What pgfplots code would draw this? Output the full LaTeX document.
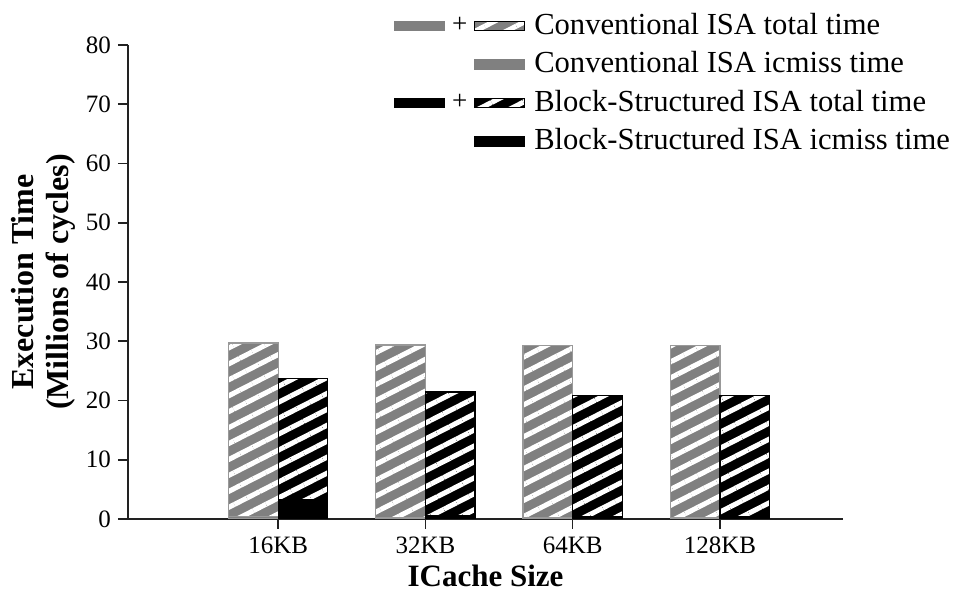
\documentclass[border=0pt]{standalone}
\usepackage{pgfplots}
\pgfplotsset{compat=1.18}
\usepackage{fontspec}
\setmainfont{Liberation Serif}
\usetikzlibrary{patterns.meta}
\definecolor{gr}{RGB}{128,128,128}
\definecolor{axc}{RGB}{34,34,34}
\tikzset{
  hatch/.style={postaction={pattern={Lines[angle=27,distance=7.1pt,line width=2.5pt]}, pattern color=white}},
}
\begin{document}
\begin{tikzpicture}
\path[use as bounding box] (-64pt,-36.5pt) rectangle (414pt,259.5pt);
\begin{axis}[
  scale only axis,
  width=357.5pt, height=237pt,
  xmin=-0.02, xmax=4.836,
  ymin=0, ymax=80,
  ytick={0,10,...,80},
  xtick={1,2,3,4},
  xticklabels={16KB,32KB,64KB,128KB},
  axis x line*=bottom, axis y line*=left,
  axis line style={axc, line width=1pt},
  tick style={axc, line width=0.8pt},
  tick align=outside,
  major tick length=5pt,
  /pgf/number format/assume math mode=true,
  tick label style={font=\fontsize{12.5}{14}\selectfont},
  xticklabel style={text height=8.5pt, text depth=0pt},
  xlabel={ICache Size},
  xlabel style={font=\bfseries\fontsize{15.5}{17}\selectfont, at={(axis description cs:0.5,-0.1205)}, anchor=center},
  ylabel={Execution Time\\(Millions of cycles)},
  ylabel style={font=\bfseries\fontsize{16}{17.5}\selectfont, align=center, at={(axis description cs:-0.119,0.5)}, anchor=center},
  legend style={draw=none, fill=none, at={(axis description cs:0.484,1.076)}, anchor=north west,
    font=\fontsize{15.3}{18}\selectfont, inner sep=0pt, row sep=2.75pt, column sep=4.5pt,
    nodes={inner sep=0pt, text height=12.5pt, text depth=4pt}},
  legend cell align=left,
]
% totals (hatched)
\addplot[ybar, bar width=0.337, bar shift=-0.1685, fill=gr, draw=gr!80, line width=0.6pt, hatch, forget plot]
  coordinates {(1,29.7) (2,29.35) (3,29.25) (4,29.25)};
\addplot[ybar, bar width=0.337, bar shift=0.1685, fill=black, draw=black, line width=0.6pt, hatch, forget plot]
  coordinates {(1,23.7) (2,21.45) (3,20.9) (4,20.8)};
% icmiss (solid)
\addplot[ybar, bar width=0.337, bar shift=-0.1685, fill=gr, draw=gr!80, line width=0.6pt, forget plot]
  coordinates {(1,0.4) (2,0.25) (3,0.2) (4,0.2)};
\addplot[ybar, bar width=0.337, bar shift=0.1685, fill=black, draw=black, line width=0.6pt, forget plot]
  coordinates {(1,3.2) (2,0.5) (3,0.35) (4,0.35)};
% legend
\addlegendimage{legend image code/.code={
  \fill[gr] (0pt,-2.35pt) rectangle (25pt,2.35pt);
  \fill[pattern={Lines[angle=27,distance=7.1pt,line width=2.5pt]}, pattern color=white] (0pt,-2.35pt) rectangle (25pt,2.35pt);
  \begin{scope}[overlay]
    \fill[gr] (-40pt,-2.35pt) rectangle (-15pt,2.35pt);
    \node[inner sep=0pt, anchor=center, text height=6.6pt, text depth=0pt, font=\fontsize{13.5}{14}\selectfont] at (-7.5pt,0pt) {+};
  \end{scope}
}}
\addlegendentry{Conventional ISA total time}
\addlegendimage{legend image code/.code={
  \fill[gr] (0pt,-2.35pt) rectangle (25pt,2.35pt);
}}
\addlegendentry{Conventional ISA icmiss time}
\addlegendimage{legend image code/.code={
  \fill[black] (0pt,-2.35pt) rectangle (25pt,2.35pt);
  \fill[pattern={Lines[angle=27,distance=7.1pt,line width=2.5pt]}, pattern color=white] (0pt,-2.35pt) rectangle (25pt,2.35pt);
  \begin{scope}[overlay]
    \fill[black] (-40pt,-2.35pt) rectangle (-15pt,2.35pt);
    \node[inner sep=0pt, anchor=center, text height=6.6pt, text depth=0pt, font=\fontsize{13.5}{14}\selectfont] at (-7.5pt,0pt) {+};
  \end{scope}
}}
\addlegendentry{Block-Structured ISA total time}
\addlegendimage{legend image code/.code={
  \fill[black] (0pt,-2.35pt) rectangle (25pt,2.35pt);
}}
\addlegendentry{Block-Structured ISA icmiss time}
\end{axis}
\end{tikzpicture}
\end{document}
